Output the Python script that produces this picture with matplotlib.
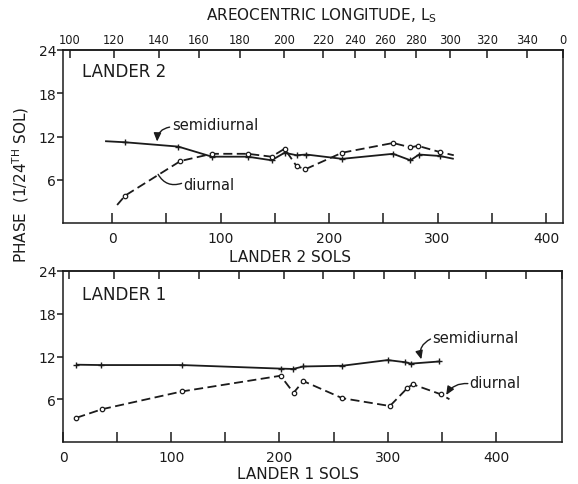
import matplotlib
matplotlib.use("Agg")
import matplotlib.pyplot as plt
from matplotlib.ticker import FixedLocator, NullFormatter

plt.rcParams["font.family"] = ["DejaVu Sans"]
plt.rcParams["mathtext.fontset"] = "dejavusans"
plt.rcParams["lines.scale_dashes"] = False

INK = "#1b1b1b"

# Areocentric longitude scale, given as Lander 1 sol positions
ls_labels = ["100", "120", "140", "160", "180", "200", "220", "240",
             "260", "280", "300", "320", "340", "0"]
ls_lander1_sol = [6, 47, 88.5, 125.4, 163, 204, 240, 269, 297, 325.5,
                  356.5, 390.6, 427.4, 461]
lander2_sol_offset = 45.3  # Lander 2 sol = Lander 1 sol - offset

# Lander 2 phases (hours, 1/24 sol); first/last entries are curve ends
l2_semi_sol = [-6.5, 12, 61, 92, 125, 147, 159, 170, 179, 212, 259, 275, 283, 302, 315]
l2_semi_phase = [11.35, 11.2, 10.6, 9.2, 9.2, 8.7, 9.75, 9.4, 9.5, 8.9, 9.6, 8.7, 9.5, 9.3, 8.9]
l2_diur_sol = [4.6, 12, 63, 92, 125, 147, 159, 170, 178, 212, 259, 275, 282, 302, 315]
l2_diur_phase = [2.5, 3.8, 8.6, 9.6, 9.6, 9.2, 10.3, 7.9, 7.45, 9.75, 11.1, 10.5, 10.7, 9.85, 9.4]

# Lander 1 phases
l1_semi_sol = [12.4, 35, 110, 201, 212.5, 222, 258, 300, 316, 321.5, 347.6]
l1_semi_phase = [10.85, 10.8, 10.8, 10.3, 10.25, 10.6, 10.7, 11.5, 11.2, 11.0, 11.3]
l1_diur_sol = [12.4, 36, 110, 201, 213, 222, 258, 302, 318, 323, 349, 357]
l1_diur_phase = [3.4, 4.6, 7.1, 9.3, 6.9, 8.55, 6.15, 5.05, 7.55, 8.1, 6.7, 6.0]

phase_ticks = [6, 12, 18, 24]

fig = plt.figure(figsize=(5.78, 4.85), dpi=100)
ax2 = fig.add_axes([63 / 578, 1 - 224 / 485, 500 / 578, 173 / 485])
ax1 = fig.add_axes([63 / 578, 1 - 443 / 485, 499 / 578, 171 / 485])

l1_range = (0, 461)


def semi(ax, x, y, mark):
    ax.plot(x, y, color=INK, lw=1.3, ls="-", marker="+", ms=5, mew=1.0,
            markevery=mark, solid_capstyle="butt")


def diur(ax, x, y, mark):
    ax.plot(x, y, color=INK, lw=1.3, ls=(0, (6.5, 3.2)), marker="o", ms=3.2,
            mew=0.9, mfc="white", mec=INK, markevery=mark)


semi(ax2, l2_semi_sol, l2_semi_phase, list(range(1, len(l2_semi_sol) - 1)))
diur(ax2, l2_diur_sol, l2_diur_phase, list(range(1, len(l2_diur_sol) - 1)))
semi(ax1, l1_semi_sol, l1_semi_phase, list(range(len(l1_semi_sol))))
diur(ax1, l1_diur_sol, l1_diur_phase, list(range(len(l1_diur_sol) - 1)))

ax2.set_xlim(l1_range[0] - lander2_sol_offset, l1_range[1] - lander2_sol_offset)
ax1.set_xlim(*l1_range)

for ax, major in ((ax2, [0, 100, 200, 300, 400]), (ax1, [0, 100, 200, 300, 400])):
    ax.set_ylim(0, 24)
    ax.set_yticks(phase_ticks)
    ax.set_yticklabels([str(v) for v in phase_ticks])
    ax.xaxis.set_major_locator(FixedLocator(major))
    ax.set_xticklabels([str(v) for v in major])
    for s in ax.spines.values():
        s.set_color(INK)
        s.set_linewidth(1.1)
    ax.tick_params(axis="y", direction="out", length=4, width=1.1, pad=1,
                   labelsize=10, colors=INK)
    ax.tick_params(axis="x", which="both", direction="in", length=7, width=1.1,
                   pad=6, labelsize=10, colors=INK)

ax2.xaxis.set_minor_locator(FixedLocator([50, 150, 250, 350]))
ax1.xaxis.set_minor_locator(FixedLocator([50, 150, 250, 350]))

# Areocentric longitude along the top of both panels
top2 = ax2.secondary_xaxis("top")
top2.set_xticks([s - lander2_sol_offset for s in ls_lander1_sol], ls_labels)
top2.tick_params(direction="in", length=6, width=1.1, pad=3, labelsize=8.3,
                 colors=INK)
top1 = ax1.secondary_xaxis("top")
top1.set_xticks(ls_lander1_sol)
top1.xaxis.set_major_formatter(NullFormatter())
top1.tick_params(direction="in", length=6, width=1.1, colors=INK)
for t in (top1, top2):
    t.spines["top"].set_linewidth(1.1)
    t.spines["top"].set_color(INK)

ax2.text(0.038, 0.879, "LANDER 2", transform=ax2.transAxes, fontsize=12,
         color=INK, va="center", ha="left")
ax1.text(0.038, 0.865, "LANDER 1", transform=ax1.transAxes, fontsize=12,
         color=INK, va="center", ha="left")

fig.text(0.502, 1 - 258 / 485, "LANDER 2 SOLS", fontsize=11, color=INK,
         ha="center", va="center")
fig.text(0.5156, 1 - 475 / 485, "LANDER 1 SOLS", fontsize=11, color=INK,
         ha="center", va="center")
fig.text(0.557, 1 - 16 / 485, r"AREOCENTRIC LONGITUDE, L$_\mathrm{S}$",
         fontsize=11, color=INK, ha="center", va="center")
fig.text(21 / 578, 1 - 185 / 485, r"PHASE  (1/24$^\mathrm{TH}$ SOL)",
         fontsize=11, color=INK, ha="center", va="center", rotation=90)

head = dict(arrowstyle="-|>,head_length=0.5,head_width=0.22", color=INK,
            lw=1.0, shrinkA=0, shrinkB=0, mutation_scale=10)
plain = dict(arrowstyle="-", color=INK, lw=1.0, shrinkA=0, shrinkB=0)

# Lander 2 curve labels
ax2.text(55.4, 13.65, "semidiurnal", fontsize=10.5, color=INK, va="center")
ax2.annotate("", xy=(41.5, 11.3), xytext=(53.0, 13.3),
             arrowprops=dict(head, connectionstyle="arc3,rad=0.4"))
ax2.text(65.5, 5.4, "diurnal", fontsize=10.5, color=INK, va="center")
ax2.annotate("", xy=(64.0, 5.5), xytext=(42.4, 6.75),
             arrowprops=dict(plain, connectionstyle="arc3,rad=0.4"))

# Lander 1 curve labels
ax1.text(341, 14.7, "semidiurnal", fontsize=10.5, color=INK, va="center")
ax1.annotate("", xy=(331, 11.6), xytext=(339.5, 14.45),
             arrowprops=dict(head, connectionstyle="arc3,rad=0.4"))
ax1.text(375, 8.3, "diurnal", fontsize=10.5, color=INK, va="center")
ax1.annotate("", xy=(354, 6.6), xytext=(374, 8.2),
             arrowprops=dict(head, connectionstyle="arc3,rad=0.3"))

fig.savefig("out.png", dpi=100, facecolor="white")
